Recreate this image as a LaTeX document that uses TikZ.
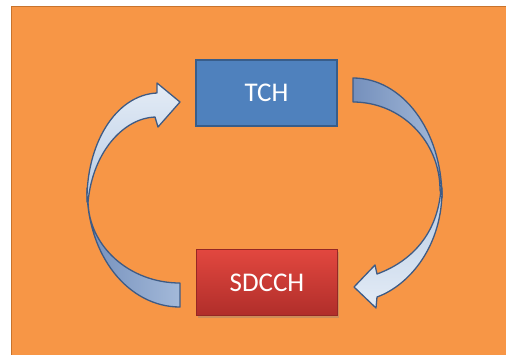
\documentclass[tikz,border=0pt]{standalone}
\usepackage{fontspec}
\newfontfamily\calibri{Carlito}
\usepackage{xcolor}
\usepackage{tikz}
\usetikzlibrary{calc,shadows}

\definecolor{slide}{HTML}{F79646}
\definecolor{slideedge}{HTML}{C8732C}
\definecolor{tchblue}{HTML}{4F81BD}
\definecolor{tchedge}{HTML}{385D8A}
\definecolor{redtop}{HTML}{E2473F}
\definecolor{redbot}{HTML}{B02E2A}
\definecolor{ribbonedge}{HTML}{3E5B85}
\definecolor{lightA}{HTML}{E4ECF6}
\definecolor{lightB}{HTML}{B7CBE4}
\definecolor{darkA}{HTML}{A3B9D9}
\definecolor{darkB}{HTML}{7590BC}

\tikzset{
  chanbox/.style={minimum width=141pt, minimum height=66pt, line width=1.2pt,
    text=white, font=\calibri\fontsize{27}{30}\selectfont},
  ribbon/.style={draw=ribbonedge, line width=1.3pt, line join=round},
}

\begin{document}
\begin{tikzpicture}[x=1pt,y=-1pt]
        \useasboundingbox (0,0) rectangle (506,354);
        % slide
        \fill[white] (0,0) rectangle (506,354);
        \draw[fill=slide, draw=slideedge, line width=1.6pt] (11.5,6.5) rectangle (510,360);
        % boxes
        \node[chanbox, draw=tchedge, fill=tchblue] (tch) at (266.5,93) {TCH};
        \node[chanbox, draw=redbot!85!black, top color=redtop, bottom color=redbot,
              drop shadow={shadow xshift=1pt, shadow yshift=-2.5pt, opacity=.35}] (sdcch) at (267,282.5) {SDCCH};
        % left arrow, back side
        \draw[ribbon, left color=darkB, right color=darkA]
            (180,307) .. controls (128.6,307) and (87,256) .. (87,188)
            -- (88,200) .. controls (88,245.8) and (129.2,283) .. (180,283) -- cycle;
        % left arrow, front side with head
        \draw[ribbon, top color=lightA, bottom color=lightB]
            (87,202) .. controls (86,145) and (115,95) .. (157,93)
            -- ++(0,-10) -- (180,102) -- (158,127) -- (155,117)
            .. controls (125,118) and (93,150) .. (88,202) -- cycle;
        % right arrow, back side
        \draw[ribbon, left color=darkB, right color=darkA]
            (353,78) .. controls (402,78) and (442,130) .. (442,198)
            -- (440,190) .. controls (440,141) and (401,102) .. (353,102) -- cycle;
        % right arrow, front side with head
        \draw[ribbon, top color=lightB, bottom color=lightA]
            (441,188) .. controls (438,235) and (410,262) .. (377,274)
            -- ++(-2,-9) -- (354,287) -- (376,308) -- (377,297)
            .. controls (410,285) and (443,245) .. (442,188) -- cycle;
    \end{tikzpicture}
\end{document}
